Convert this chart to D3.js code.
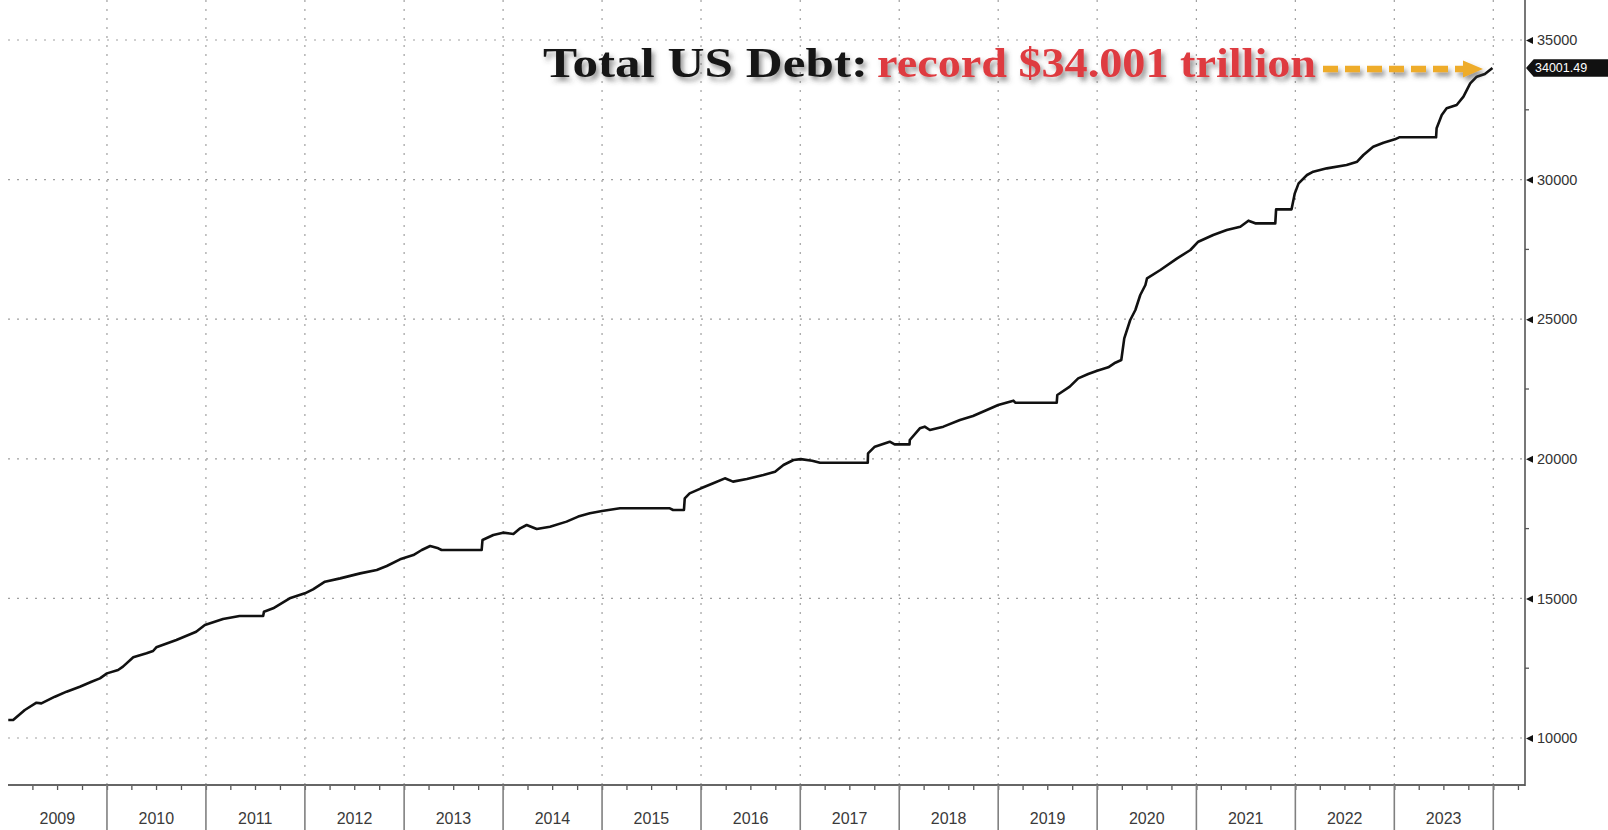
<!DOCTYPE html>
<html>
<head>
<meta charset="utf-8">
<script src="https://cdn.jsdelivr.net/npm/d3@7"></script>
<style>
  html, body { margin: 0; padding: 0; background: #fff; }
  svg { display: block; }
</style>
</head>
<body>
<svg id="chart" width="1608" height="830"></svg>
<script>
// Total public debt outstanding, $ billions
const debtDates = [
  "2009-01-02","2009-01-20","2009-03-04","2009-04-16","2009-05-04","2009-06-23","2009-08-05",
  "2009-09-23","2009-11-05","2009-12-06",
  "2010-01-01","2010-02-11","2010-03-01","2010-04-08","2010-05-27","2010-06-20","2010-07-02",
  "2010-09-14","2010-11-26","2010-12-28",
  "2011-03-05","2011-05-05","2011-07-31","2011-08-03","2011-09-06","2011-11-06",
  "2012-01-01","2012-01-31","2012-03-15","2012-05-10","2012-07-23","2012-09-22","2012-10-29","2012-12-17",
  "2013-02-04","2013-03-07","2013-04-07","2013-05-07","2013-05-19","2013-10-14","2013-10-17","2013-11-26",
  "2014-01-01","2014-02-08","2014-03-05","2014-03-29","2014-05-05","2014-06-23","2014-08-23",
  "2014-10-05","2014-11-17",
  "2015-01-01","2015-03-08","2015-09-08","2015-09-20","2015-10-30","2015-11-02","2015-11-20",
  "2016-01-01","2016-02-15","2016-03-29","2016-04-28","2016-06-18","2016-08-18","2016-09-30",
  "2016-10-31","2016-12-07",
  "2017-01-03","2017-02-14","2017-03-15","2017-09-07","2017-09-08","2017-10-03","2017-11-27","2017-12-15",
  "2018-02-08","2018-02-09","2018-03-18","2018-04-05","2018-04-24","2018-06-13","2018-08-13",
  "2018-09-30","2018-11-20",
  "2019-01-01","2019-02-26","2019-03-05","2019-08-05","2019-08-07","2019-09-22","2019-10-23","2019-11-29",
  "2020-01-01","2020-02-11","2020-03-08","2020-03-30","2020-04-10","2020-05-02","2020-05-21",
  "2020-06-08","2020-06-27","2020-07-03","2020-08-21","2020-10-22","2020-12-10",
  "2021-01-08","2021-03-04","2021-04-23","2021-06-12","2021-07-12","2021-08-06","2021-10-19",
  "2021-10-22","2021-12-18","2021-12-30",
  "2022-01-13","2022-02-13","2022-03-08","2022-04-27","2022-07-09","2022-08-17","2022-09-09",
  "2022-10-15","2022-11-22",
  "2023-01-03","2023-01-19","2023-06-04","2023-06-06","2023-06-25","2023-07-13","2023-08-19",
  "2023-09-13","2023-10-08","2023-11-01","2023-12-01","2023-12-29"
];
const debtValues = [
  10645, 10645, 11003, 11265, 11241, 11480, 11660,
  11838, 12017, 12137,
  12315, 12436, 12556, 12890, 13034, 13116, 13248,
  13510, 13808, 14048,
  14263, 14370, 14370, 14525, 14645, 15003,
  15182, 15325, 15598, 15718, 15897, 16017, 16160, 16400,
  16554, 16734, 16877, 16795, 16734, 16734, 17092, 17271,
  17355, 17307, 17510, 17629, 17486, 17570, 17750,
  17930, 18050,
  18132, 18227, 18227, 18166, 18166, 18585, 18764,
  18943, 19122, 19301, 19182, 19277, 19420, 19538,
  19778, 19957,
  19990, 19933, 19860, 19860, 20197, 20434, 20612, 20517,
  20517, 20673, 21093, 21152, 21032, 21152, 21390,
  21533, 21748,
  21927, 22082, 22010, 22010, 22285, 22583, 22882, 23037,
  23157, 23276, 23442, 23539, 24316, 24971, 25330,
  25867, 26225, 26465, 26762, 27180, 27479,
  27776, 28016, 28195, 28313, 28529, 28434, 28434,
  28935, 28935, 29508,
  29866, 30165, 30284, 30403, 30523, 30642, 30881,
  31179, 31322,
  31442, 31515, 31515, 31838, 32314, 32553, 32672,
  32970, 33449, 33686, 33782, 34001.49
];
const yTicks = [10000, 15000, 20000, 25000, 30000, 35000];
const yMinorTicks = [12500, 17500, 22500, 27500, 32500];
const yearLabels = ["2009","2010","2011","2012","2013","2014","2015","2016",
                    "2017","2018","2019","2020","2021","2022","2023"];
const lastValue = 34001.49;
const titleLead = "Total US Debt:";
const titleRecord = "record $34.001 trillion";

(function draw() {
  const parse = d3.timeParse("%Y-%m-%d");
  const series = debtDates.map((d, i) => ({ date: parse(d), value: debtValues[i] }));

  const svg = d3.select("#chart");
  const W = 1608, H = 830;
  const plotLeft = 8, plotRight = 1525, plotTop = 0, plotBottom = 785;

  const x = d3.scaleTime()
    .domain([new Date(2009, 0, 1), new Date(2024, 3, 27)])
    .range([plotLeft, plotRight]);
  const y = d3.scaleLinear()
    .domain([8317, 36433])
    .range([plotBottom, plotTop]);

  svg.append("rect").attr("width", W).attr("height", H).attr("fill", "#fff");

  const defs = svg.append("defs");
  const shadow = defs.append("filter").attr("id", "txtShadow")
    .attr("x", "-5%").attr("y", "-30%").attr("width", "110%").attr("height", "170%");
  shadow.append("feDropShadow")
    .attr("dx", 3).attr("dy", 4).attr("stdDeviation", 2.5)
    .attr("flood-color", "#444").attr("flood-opacity", 0.55);

  // Grid
  const yearStarts = d3.range(2010, 2025).map(yr => new Date(yr, 0, 1));
  const grid = svg.append("g").attr("stroke", "#a0a0a0").attr("stroke-width", 1.2)
    .attr("stroke-dasharray", "2,7").attr("fill", "none");
  grid.selectAll("line.h").data(yTicks).join("line").attr("class", "h")
    .attr("x1", plotLeft).attr("x2", plotRight)
    .attr("y1", d => y(d)).attr("y2", d => y(d));
  grid.selectAll("line.v").data(yearStarts).join("line").attr("class", "v")
    .attr("x1", d => x(d)).attr("x2", d => x(d))
    .attr("y1", plotTop).attr("y2", plotBottom);

  // Bottom axis: quarterly minor ticks
  const quarterTicks = d3.timeMonth.range(new Date(2009, 3, 1), new Date(2024, 3, 2), 3);
  const xAxis = d3.axisBottom(x).tickValues(quarterTicks).tickSize(5).tickFormat("");
  const gx = svg.append("g").attr("transform", `translate(0,${plotBottom})`).call(xAxis);
  gx.select(".domain").remove();
  gx.selectAll(".tick line").attr("stroke", "#555").attr("stroke-width", 1.3);

  svg.append("line").attr("x1", plotLeft).attr("x2", plotRight)
    .attr("y1", plotBottom).attr("y2", plotBottom)
    .attr("stroke", "#666").attr("stroke-width", 2.2);

  // Year separators and labels
  svg.append("g").selectAll("line").data(yearStarts).join("line")
    .attr("x1", d => x(d)).attr("x2", d => x(d))
    .attr("y1", plotBottom).attr("y2", H)
    .attr("stroke", "#808080").attr("stroke-width", 1.6);
  svg.append("g").selectAll("text").data(yearLabels).join("text")
    .attr("x", d => x(new Date(+d, 6, 2)))
    .attr("y", 824)
    .attr("text-anchor", "middle")
    .attr("font-family", "Liberation Sans, Arial, sans-serif")
    .attr("font-size", 16)
    .attr("fill", "#3a3a3a")
    .text(d => d);

  // Right axis
  svg.append("line").attr("x1", plotRight).attr("x2", plotRight)
    .attr("y1", plotTop).attr("y2", plotBottom + 1)
    .attr("stroke", "#555").attr("stroke-width", 1.6);
  const yAxis = d3.axisRight(y).tickValues(yTicks).tickSize(0).tickPadding(12)
    .tickFormat(d3.format("d"));
  const gy = svg.append("g").attr("transform", `translate(${plotRight},0)`).call(yAxis);
  gy.select(".domain").remove();
  gy.selectAll(".tick text")
    .attr("font-family", "Liberation Sans, Arial, sans-serif")
    .attr("font-size", 14.5).attr("fill", "#333");
  gy.selectAll(".tick").append("path")
    .attr("d", "M1,0 L8,-3.5 L8,3.5 Z").attr("fill", "#111");
  svg.append("g").selectAll("line").data(yMinorTicks).join("line")
    .attr("x1", plotRight).attr("x2", plotRight + 4)
    .attr("y1", d => y(d)).attr("y2", d => y(d))
    .attr("stroke", "#555").attr("stroke-width", 1.3);

  // Debt line
  const line = d3.line().x(d => x(d.date)).y(d => y(d.value));
  svg.append("path").datum(series)
    .attr("d", line)
    .attr("fill", "none")
    .attr("stroke", "#111")
    .attr("stroke-width", 2.6)
    .attr("stroke-linejoin", "round");

  // Last value tag
  const ly = y(lastValue);
  const tag = svg.append("g");
  tag.append("path")
    .attr("d", `M${plotRight + 2},${ly} L${plotRight + 9},${ly - 8} L${W + 4},${ly - 8} L${W + 4},${ly + 8} L${plotRight + 9},${ly + 8} Z`)
    .attr("fill", "#111").attr("stroke", "#111").attr("stroke-width", 1.5)
    .attr("stroke-linejoin", "round");
  tag.append("text")
    .attr("x", plotRight + 10).attr("y", ly).attr("dy", "0.36em")
    .attr("font-family", "Liberation Sans, Arial, sans-serif")
    .attr("font-size", 12.5).attr("fill", "#fff")
    .text(d3.format(".2f")(lastValue));

  // Headline, two coloured parts
  const titleFont = {
    "font-family": "Liberation Serif, Times New Roman, serif",
    "font-weight": "bold",
    "font-size": 43
  };
  const lead = svg.append("text")
    .attr("x", 543).attr("y", 77)
    .attr("fill", "#161616")
    .attr("textLength", 325).attr("lengthAdjust", "spacingAndGlyphs")
    .attr("filter", "url(#txtShadow)")
    .text(titleLead);
  const rec = svg.append("text")
    .attr("x", 877).attr("y", 77)
    .attr("fill", "#de3b40")
    .attr("textLength", 439).attr("lengthAdjust", "spacingAndGlyphs")
    .attr("filter", "url(#txtShadow)")
    .text(titleRecord);
  for (const [k, v] of Object.entries(titleFont)) { lead.attr(k, v); rec.attr(k, v); }

  // Pointer arrow towards the last value
  const arrowY = y(lastValue) + 1;
  const arrow = svg.append("g").attr("filter", "url(#txtShadow)");
  arrow.append("line")
    .attr("x1", 1323).attr("x2", 1466)
    .attr("y1", arrowY).attr("y2", arrowY)
    .attr("stroke", "#eeac2c").attr("stroke-width", 6.5)
    .attr("stroke-dasharray", "15,7");
  arrow.append("path")
    .attr("d", `M1463,${arrowY - 8.5} L1483,${arrowY} L1463,${arrowY + 8.5} Z`)
    .attr("fill", "#eeac2c");
})();
</script>
</body>
</html>
